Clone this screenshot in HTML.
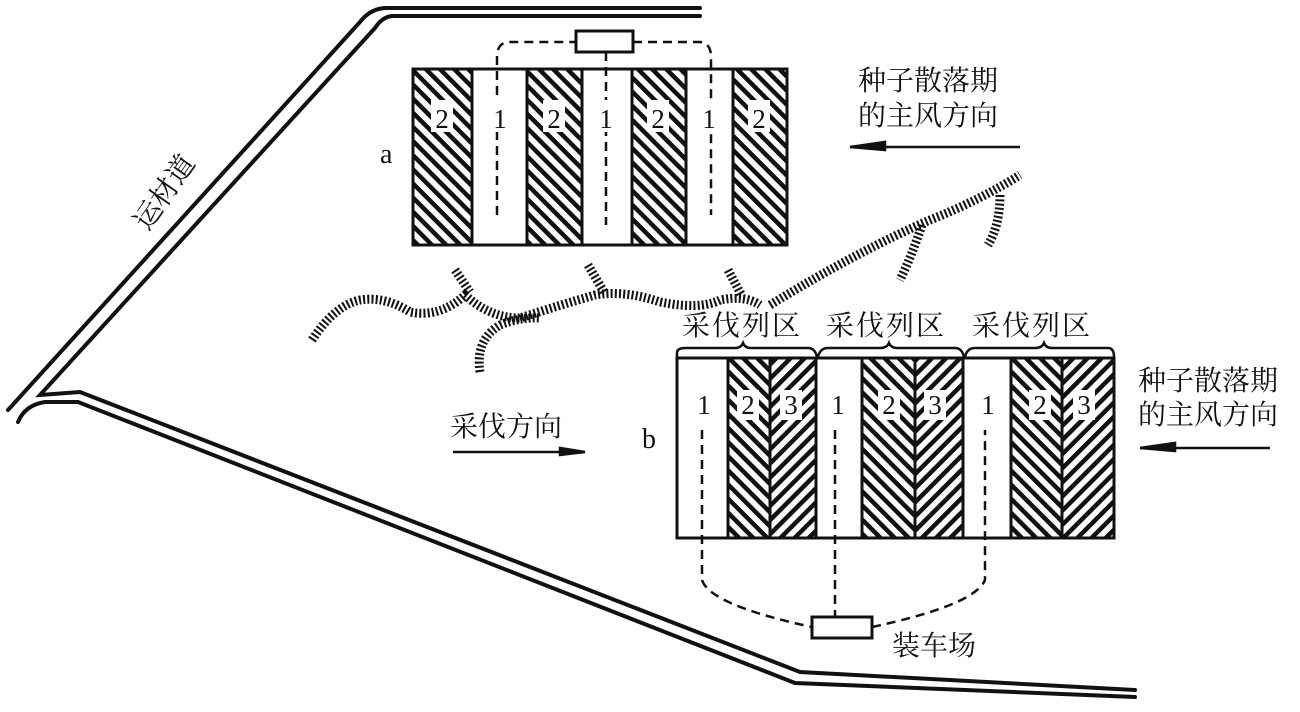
<!DOCTYPE html>
<html><head><meta charset="utf-8"><style>
html,body{margin:0;padding:0;background:#fff;}
svg{display:block;}
text{font-family:"Liberation Serif","Noto Serif CJK SC","Noto Sans CJK SC",serif;fill:#111;}
</style></head><body>
<svg width="1300" height="712" viewBox="0 0 1300 712" xmlns="http://www.w3.org/2000/svg">
<defs>
<pattern id="hb" patternUnits="userSpaceOnUse" width="10" height="10" patternTransform="rotate(-45)">
<rect width="10" height="10" fill="#fff"/><rect width="4.5" height="10" fill="#111"/></pattern>
<pattern id="hf" patternUnits="userSpaceOnUse" width="10" height="10" patternTransform="rotate(45)">
<rect width="10" height="10" fill="#fff"/><rect width="4.5" height="10" fill="#111"/></pattern>
</defs>
<g fill="none" stroke="#111" stroke-width="4" stroke-linecap="round">
<path d="M700,8 L385,8 Q370,9 360,22 L8,410"/>
<path d="M700,16 L392,16 Q382,17 375,28 L40,395 L80,392 L800,672 L1135,690"/>
<path d="M18,422 Q25,405 45,402 L78,402 L795,683 L1135,697"/>
</g>
<!-- diagram a -->
<g stroke="#111" stroke-width="3">
<rect x="413" y="69" width="59" height="176" fill="url(#hb)"/>
<rect x="527" y="69" width="55" height="176" fill="url(#hb)"/>
<rect x="632" y="69" width="54" height="176" fill="url(#hb)"/>
<rect x="733" y="69" width="54" height="176" fill="url(#hb)"/>
<rect x="413" y="69" width="374" height="176" fill="none"/>
<rect x="576" y="31" width="57" height="21" fill="#fff"/>
</g>
<g fill="none" stroke="#111" stroke-width="2.5" stroke-dasharray="9,6">
<path d="M497,215 L497,55 Q498,43 508,42 L576,42"/>
<path d="M633,42 L700,42 Q710,43 711,55 L711,215"/>
<path d="M606,52 L606,225"/>
</g>
<g font-size="27" text-anchor="middle">
<rect x="431" y="100" width="22" height="32" fill="#fff"/><text x="442" y="128">2</text>
<rect x="490" y="100" width="20" height="32" fill="#fff"/><text x="500" y="128">1</text>
<rect x="543" y="100" width="22" height="32" fill="#fff"/><text x="554" y="128">2</text>
<rect x="596" y="100" width="20" height="32" fill="#fff"/><text x="606" y="128">1</text>
<rect x="647" y="100" width="22" height="32" fill="#fff"/><text x="658" y="128">2</text>
<rect x="700" y="100" width="20" height="32" fill="#fff"/><text x="709" y="128">1</text>
<rect x="748" y="100" width="22" height="32" fill="#fff"/><text x="759" y="128">2</text>
</g>
<text x="380" y="163" font-size="28">a</text>
<!-- streams -->
<g fill="none" stroke="#111" stroke-width="9" stroke-dasharray="2,2.2">
<path d="M312,340 Q335,305 360,300 Q385,296 410,312 Q440,318 465,295 Q490,318 520,318 Q560,305 595,295 Q625,290 660,302 Q700,310 720,300 Q745,295 760,305"/>
<path d="M770,305 Q860,250 930,220 Q980,200 1020,175"/>
<path d="M480,372 Q475,340 500,325 Q520,317 540,318"/>
<path d="M455,270 L470,292"/>
<path d="M588,265 L604,292"/>
<path d="M728,270 L742,296"/>
<path d="M922,225 Q912,255 900,280"/>
<path d="M1000,195 Q1000,225 988,245"/>
</g>
<!-- diagram b -->
<g stroke="#111" stroke-width="3">
<rect x="728" y="358" width="42" height="180" fill="url(#hb)"/>
<rect x="770" y="358" width="46" height="180" fill="url(#hf)"/>
<rect x="862" y="358" width="53" height="180" fill="url(#hb)"/>
<rect x="915" y="358" width="48" height="180" fill="url(#hf)"/>
<rect x="1011" y="358" width="51" height="180" fill="url(#hb)"/>
<rect x="1062" y="358" width="52" height="180" fill="url(#hf)"/>
<rect x="677" y="358" width="437" height="180" fill="none"/>
<rect x="812" y="617" width="60" height="21" fill="#fff"/>
</g>
<g fill="none" stroke="#111" stroke-width="2.5">
<path d="M677,358 L677,352 Q678,348 685,348 L735,348 Q741,348 743,343 Q745,348 751,348 L808,348 Q815,348 817,357"/>
<path d="M818,357 Q820,348 828,348 L880,348 Q887,348 889,343 Q891,348 897,348 L955,348 Q962,348 964,357"/>
<path d="M965,357 Q967,348 975,348 L1035,348 Q1042,348 1044,343 Q1046,348 1052,348 L1108,348 Q1114,348 1114,357"/>
</g>
<g fill="none" stroke="#111" stroke-width="2.5" stroke-dasharray="9,6">
<path d="M702,430 L702,580 Q710,605 812,627"/>
<path d="M872,627 Q975,605 985,580 L985,430"/>
<path d="M835,430 L835,617"/>
</g>
<g font-size="27" text-anchor="middle">
<text x="704" y="414">1</text>
<rect x="737" y="390" width="22" height="30" fill="#fff"/><text x="748" y="414">2</text>
<rect x="780" y="390" width="22" height="30" fill="#fff"/><text x="791" y="414">3</text>
<text x="838" y="414">1</text>
<rect x="878" y="390" width="22" height="30" fill="#fff"/><text x="889" y="414">2</text>
<rect x="924" y="390" width="22" height="30" fill="#fff"/><text x="935" y="414">3</text>
<text x="988" y="414">1</text>
<rect x="1029" y="390" width="22" height="30" fill="#fff"/><text x="1040" y="414">2</text>
<rect x="1073" y="390" width="22" height="30" fill="#fff"/><text x="1084" y="414">3</text>
</g>
<text x="642" y="448" font-size="28">b</text>
<g font-size="28" font-family="'Noto Sans CJK SC',sans-serif">
<text x="682" y="335" letter-spacing="2">采伐列区</text>
<text x="826" y="335" letter-spacing="2">采伐列区</text>
<text x="972" y="335" letter-spacing="2">采伐列区</text>
<text x="858" y="90">种子散落期</text>
<text x="858" y="125">的主风方向</text>
<text x="1138" y="390">种子散落期</text>
<text x="1138" y="424">的主风方向</text>
<text x="450" y="436">采伐方向</text>
<text x="892" y="655">装车场</text>
<text transform="translate(148,232) rotate(-55)">运材道</text>
</g>
<g stroke="#111" stroke-width="2.5" fill="#111">
<line x1="850" y1="147" x2="1020" y2="147"/>
<path d="M850,147 L885,142 L885,150 Z"/>
<line x1="1140" y1="448" x2="1270" y2="448"/>
<path d="M1140,448 L1175,443 L1175,451 Z"/>
<line x1="453" y1="452" x2="585" y2="452"/>
<path d="M585,452 L560,448 L560,455 Z"/>
</g>
</svg>
</body></html>
